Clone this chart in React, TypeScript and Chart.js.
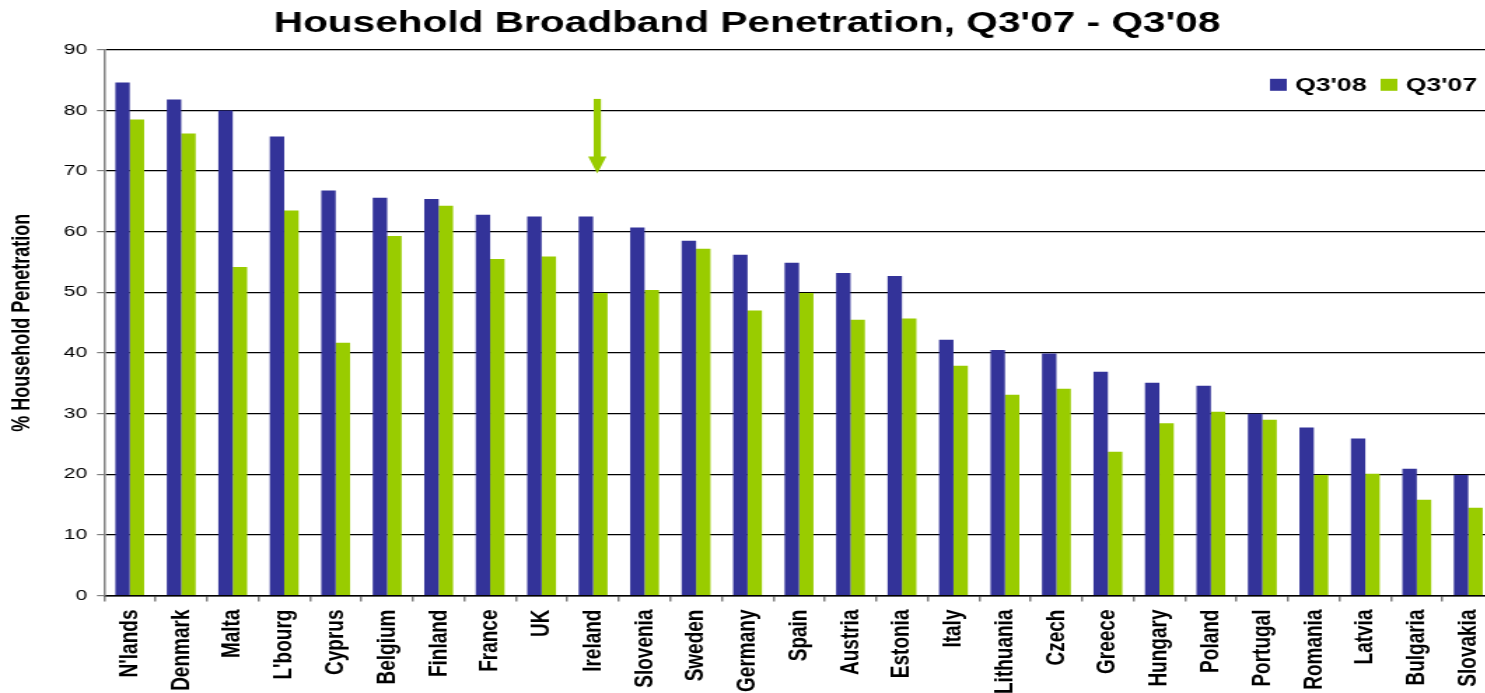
import React, { useEffect, useRef } from "react";
import { Chart, registerables } from "chart.js";

Chart.register(...registerables);

const title = "Household Broadband Penetration, Q3'07 - Q3'08";
const yAxisTitle = "% Household Penetration";
const categories = [
  "N'lands", "Denmark", "Malta", "L'bourg", "Cyprus", "Belgium", "Finland", "France", "UK",
  "Ireland", "Slovenia", "Sweden", "Germany", "Spain", "Austria", "Estonia", "Italy",
  "Lithuania", "Czech", "Greece", "Hungary", "Poland", "Portugal", "Romania", "Latvia",
  "Bulgaria", "Slovakia",
];
const seriesNames = ["Q3'08", "Q3'07"];
const q308 = [
  84.6, 81.8, 80.0, 75.7, 66.8, 65.6, 65.4, 62.8, 62.5, 62.5, 60.7, 58.5, 56.2, 54.9, 53.2,
  52.7, 42.2, 40.5, 39.9, 36.9, 35.1, 34.6, 30.0, 27.7, 25.9, 20.9, 19.9,
];
const q307 = [
  78.5, 76.2, 54.2, 63.5, 41.7, 59.3, 64.3, 55.5, 55.9, 49.9, 50.4, 57.2, 47.0, 49.9, 45.5,
  45.7, 37.9, 33.1, 34.1, 23.7, 28.4, 30.3, 29.0, 19.9, 20.1, 15.8, 14.5,
];
const yMin = 0;
const yMax = 90;
const yStep = 10;
// highlight arrow: category, from value, to value
const arrowCategory = "Ireland";
const arrowFrom = 81.9;
const arrowTo = 69.6;

const BLUE = "#333399";
const GREEN = "#99cc00";
const FONT = "'Liberation Sans', Arial, Helvetica, sans-serif";

// the reference image is horizontally stretched
const STRETCH = 1.4;
const W0 = 1067;
const H0 = 702;

const legendPlugin = {
  id: "customLegend",
  afterDraw(chart: any) {
    const { ctx, chartArea } = chart;
    ctx.save();
    ctx.font = `bold 19px ${FONT}`;
    ctx.textBaseline = "middle";
    const box = 12;
    const gapBoxText = 6;
    const gapItems = 10;
    const items = chart.data.datasets.map((d: any) => ({
      label: d.label,
      color: d.backgroundColor,
      w: ctx.measureText(d.label).width,
    }));
    let total = 0;
    items.forEach((it: any, i: number) => {
      total += box + gapBoxText + it.w + (i < items.length - 1 ? gapItems : 0);
    });
    let x = chart.width - 12 - total;
    const cy = chartArea.top + 35;
    items.forEach((it: any) => {
      ctx.fillStyle = it.color;
      ctx.fillRect(x, cy - box / 2, box, box);
      x += box + gapBoxText;
      ctx.fillStyle = "#000";
      ctx.fillText(it.label, x, cy + 1);
      x += it.w + gapItems;
    });
    ctx.restore();
  },
};

const arrowPlugin = {
  id: "arrow",
  afterDatasetsDraw(chart: any) {
    const { ctx } = chart;
    const xs = chart.scales.x;
    const ys = chart.scales.y;
    const idx = categories.indexOf(arrowCategory);
    const x = xs.getPixelForValue(idx) + 3;
    const y1 = ys.getPixelForValue(arrowFrom);
    const y2 = ys.getPixelForValue(arrowTo);
    const headLen = 17;
    const headHalf = 6.5;
    ctx.save();
    ctx.fillStyle = GREEN;
    ctx.fillRect(x - 2.6, y1, 5.2, y2 - headLen - y1 + 1);
    ctx.beginPath();
    ctx.moveTo(x - headHalf, y2 - headLen);
    ctx.lineTo(x + headHalf, y2 - headLen);
    ctx.lineTo(x, y2);
    ctx.closePath();
    ctx.fill();
    ctx.restore();
  },
};

export default function App() {
  const ref = useRef<HTMLCanvasElement | null>(null);
  useEffect(() => {
    if (!ref.current) return;
    const chart = new Chart(ref.current, {
      type: "bar",
      data: {
        labels: categories,
        datasets: [
          { label: seriesNames[0], data: q308, backgroundColor: BLUE, borderWidth: 0 },
          { label: seriesNames[1], data: q307, backgroundColor: GREEN, borderWidth: 0 },
        ],
      },
      options: {
        animation: false,
        responsive: false,
        maintainAspectRatio: false,
        devicePixelRatio: 1,
        datasets: { bar: { categoryPercentage: 0.56, barPercentage: 1.0 } },
        layout: { padding: 0 },
        plugins: {
          legend: { display: false },
          tooltip: { enabled: false },
          title: {
            display: true,
            text: title,
            color: "#000",
            font: { family: FONT, size: 29, weight: "bold", lineHeight: 1.2 },
            padding: { top: 7, bottom: 8 },
          },
        },
        scales: {
          x: {
            offset: true,
            afterFit: (scale: any) => {
              scale.paddingLeft = 0;
              scale.paddingRight = 0;
            },
            grid: {
              display: true,
              drawOnChartArea: false,
              drawTicks: true,
              tickLength: 6,
              tickColor: "#808080",
              lineWidth: 1.5,
            },
            border: { display: true, color: "#000", width: 1.5 },
            ticks: {
              autoSkip: false,
              maxRotation: 90,
              minRotation: 90,
              padding: 8,
              color: "#000",
              font: { family: FONT, size: 19, weight: "bold" },
            },
          },
          y: {
            min: yMin,
            max: yMax,
            grid: {
              color: "#000",
              lineWidth: 1.2,
              tickColor: "#808080",
              tickLength: 5,
            },
            border: { display: true, color: "#808080", width: 1.5 },
            ticks: {
              stepSize: yStep,
              padding: 7,
              color: "#000",
              font: { family: FONT, size: 15 },
            },
            title: {
              display: true,
              text: yAxisTitle,
              color: "#000",
              font: { family: FONT, size: 18, weight: "bold", lineHeight: 1.2 },
              padding: { top: 5.6, bottom: 11.4 },
            },
          },
        },
      },
      plugins: [arrowPlugin, legendPlugin],
    } as any);
    return () => chart.destroy();
  }, []);

  return (
    <div
      style={{
        position: "fixed",
        left: 0,
        top: 0,
        width: 1485,
        height: 693,
        overflow: "hidden",
        background: "#fff",
      }}
    >
      <canvas
        ref={ref}
        width={W0}
        height={H0}
        style={{ width: `${W0 * STRETCH}px`, height: `${H0}px`, display: "block" }}
      />
    </div>
  );
}
